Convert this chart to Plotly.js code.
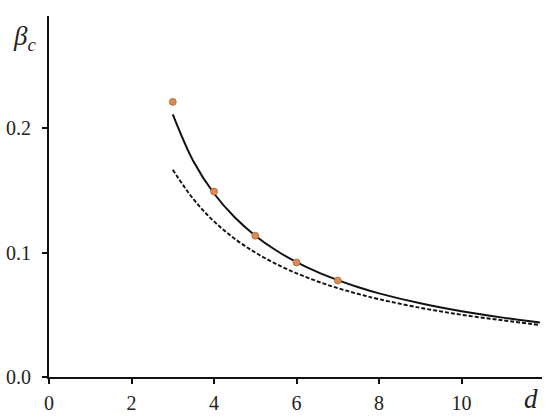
<!DOCTYPE html>
<html>
<head>
<meta charset="utf-8">
<script src="https://cdn.plot.ly/plotly-3.0.1.min.js"></script>
<style>html,body{margin:0;padding:0;background:#fff;}#chart{width:550px;height:420px;}</style>
</head>
<body>
<div id="chart"></div>
<script>
// Simulation points
const pointD = [3, 4, 5, 6, 7];
const pointBeta = [0.221, 0.149, 0.1135, 0.092, 0.0775];

// Solid curve
const solidD = [3, 3.5, 4, 4.5, 5, 5.5, 6, 6.5, 7, 7.5, 8, 9, 10, 11, 11.9];
const solidBeta = [0.2110, 0.1733, 0.1474, 0.1283, 0.1135, 0.1018, 0.0923, 0.0844, 0.0778, 0.0721, 0.0672, 0.0592, 0.0528, 0.0477, 0.0437];

// Dashed curve
const dashD = [3, 3.5, 4, 4.5, 5, 5.5, 6, 6.5, 7, 7.5, 8, 9, 10, 11, 11.9];
const dashBeta = [0.1665, 0.1429, 0.1250, 0.1111, 0.1000, 0.0909, 0.0833, 0.0769, 0.0714, 0.0667, 0.0625, 0.0556, 0.0500, 0.0455, 0.0418];

const xTicks = [0, 2, 4, 6, 8, 10];
const yTicks = [0.0, 0.1, 0.2];

const SERIF = 'Liberation Serif';
function mkFont(size) { return {family: SERIF, size: size, color: '#222'}; }

const traces = [
  {x: dashD, y: dashBeta, mode: 'lines', line: {color: '#111', width: 1.9, dash: '4px,2px', shape: 'spline'}, hoverinfo: 'skip'},
  {x: solidD, y: solidBeta, mode: 'lines', line: {color: '#111', width: 2, shape: 'spline'}, hoverinfo: 'skip'},
  {x: pointD, y: pointBeta, mode: 'markers', marker: {color: '#D98C55', size: 7, line: {color: '#A8683A', width: 0.8}}}
];

const layout = {
  width: 550, height: 420,
  margin: {l: 49, r: 8, t: 16, b: 43},
  paper_bgcolor: '#fff', plot_bgcolor: '#fff',
  showlegend: false,
  font: mkFont(20),
  xaxis: {
    range: [0, 11.95], tickvals: xTicks,
    showgrid: false, zeroline: false, showline: true, linecolor: '#111', linewidth: 1.8,
    ticks: 'outside', ticklen: 5, tickwidth: 1.5, tickcolor: '#111',
    ticklabelstandoff: 2,
    tickfont: mkFont(20)
  },
  yaxis: {
    range: [0, 0.29], tickvals: yTicks, tickformat: '.1f',
    showgrid: false, zeroline: false, showline: true, linecolor: '#111', linewidth: 1.8,
    ticks: 'outside', ticklen: 5, tickwidth: 1.5, tickcolor: '#111',
    ticklabelstandoff: 7,
    tickfont: mkFont(20)
  },
  annotations: [
    {text: '<i>β</i><sub><i>c</i></sub>', xref: 'paper', yref: 'paper', x: -0.078, y: 0.94,
     xanchor: 'left', yanchor: 'middle', showarrow: false, font: mkFont(27)},
    {text: '<i>d</i>', xref: 'paper', yref: 'paper', x: 0.978, y: -0.06,
     xanchor: 'center', yanchor: 'middle', showarrow: false, font: mkFont(27)}
  ]
};

Plotly.newPlot('chart', traces, layout, {displayModeBar: false});
</script>
</body>
</html>
